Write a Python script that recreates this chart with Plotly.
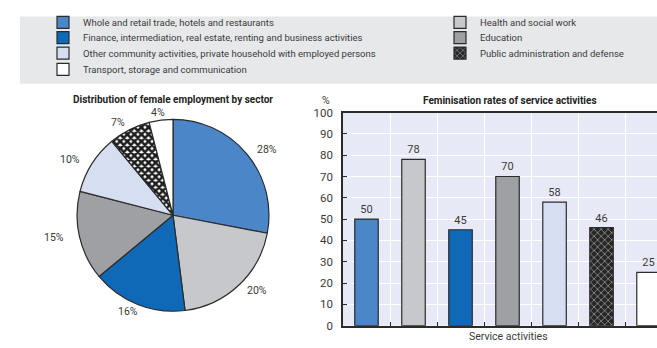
import math
import plotly.graph_objects as go

# ---- data ----
sectors = [
    "Whole and retail trade, hotels and restaurants",
    "Health and social work",
    "Finance, intermediation, real estate, renting and business activities",
    "Education",
    "Other community activities, private household with employed persons",
    "Public administration and defense",
    "Transport, storage and communication",
]
share_pct = [28, 20, 16, 15, 10, 7, 4]          # distribution of female employment
feminisation = [50, 78, 45, 70, 58, 46, 25]     # feminisation rates (%)
y_ticks = list(range(0, 101, 10))

colors = ["#4a86c8", "#c6c8cb", "#0f69b6", "#9ea0a3", "#d6def1", "#ffffff", "#ffffff"]
patterns = ["", "", "", "", "", "x", ""]
# legend cell for each sector: (column x-left px, row centre y px)
legend_cells = [(43, 16), (440, 16), (43, 32), (440, 32), (43, 48), (440, 48), (43, 65)]

FONT = "Roboto"
TXT = "#3a3a3a"
EDGE = "#2b2b2b"
PIE_PAT = dict(fgcolor="#1e1e1e", bgcolor="#ffffff", size=5, solidity=0.75)
BAR_PAT = dict(fgcolor="#ffffff", bgcolor="#262626", size=5, solidity=0.3)
W, H = 657, 348
PIE_CX, PIE_CY, PIE_R = 173, 217, 100
LABEL_RX, LABEL_RY = 122, 108

fig = go.Figure()

# pie
fig.add_trace(go.Pie(
    labels=sectors, values=share_pct, sort=False, direction="clockwise", rotation=0,
    marker=dict(colors=colors, line=dict(color=EDGE, width=1.2),
                pattern=dict(shape=patterns, **PIE_PAT)),
    textinfo="none",
    domain=dict(x=[(PIE_CX - PIE_R) / W, (PIE_CX + PIE_R) / W],
                y=[1 - (PIE_CY + PIE_R) / H, 1 - (PIE_CY - PIE_R) / H]),
    showlegend=False, hoverinfo="label+value",
))

# pie percentage labels, placed at each slice's mid-angle (derived from the data)
annotations = []
total = sum(share_pct)
cum = 0
for v in share_pct:
    mid = (cum + v / 2) / total * 2 * math.pi
    cum += v
    px = PIE_CX + LABEL_RX * math.sin(mid)
    py = PIE_CY - LABEL_RY * math.cos(mid)
    annotations.append(dict(text=f"{v}%", xref="paper", yref="paper", x=px / W, y=1 - py / H,
                            xanchor="center", yanchor="middle", showarrow=False,
                            font=dict(family=FONT, size=10.5, color=TXT)))

# bars (one trace per sector, each with its own legend cell)
legend_layout = {}
for i, s in enumerate(sectors):
    lid = "legend" if i == 0 else f"legend{i + 1}"
    fig.add_trace(go.Bar(
        x=[s], y=[feminisation[i]], name=s, width=0.5,
        marker=dict(color=colors[i], line=dict(color=EDGE, width=1.2),
                    pattern=dict(shape=patterns[i], **BAR_PAT)),
        text=[feminisation[i]], textposition="outside", cliponaxis=False,
        textfont=dict(family=FONT, size=11, color=TXT),
        legend=lid, showlegend=True, xaxis="x", yaxis="y",
    ))
    cx, cy = legend_cells[i]
    legend_layout[lid] = dict(x=cx / W, y=1 - cy / H, xanchor="left", yanchor="middle",
                              bgcolor="rgba(0,0,0,0)", borderwidth=0,
                              font=dict(family=FONT, size=9.5, color=TXT),
                              itemclick=False, itemdoubleclick=False)

annotations += [
    dict(text="<b>Distribution of female employment by sector</b>", xref="paper", yref="paper",
         x=173 / W, y=1 - 96 / H, xanchor="center", yanchor="middle", showarrow=False,
         font=dict(family=FONT, size=10, color="#222222")),
    dict(text="<b>Feminisation rates of service activities</b>", xref="paper", yref="paper",
         x=510 / W, y=1 - 97 / H, xanchor="center", yanchor="middle", showarrow=False,
         font=dict(family=FONT, size=10, color="#222222")),
    dict(text="%", xref="paper", yref="paper", x=326 / W, y=1 - 97 / H,
         xanchor="center", yanchor="middle", showarrow=False,
         font=dict(family=FONT, size=10.5, color=TXT)),
    dict(text="Service activities", xref="paper", yref="paper", x=508 / W, y=1 - 343 / H,
         xanchor="center", yanchor="middle", showarrow=False,
         font=dict(family=FONT, size=10.5, color=TXT)),
]

fig.update_layout(
    width=W, height=H,
    margin=dict(l=0, r=0, t=0, b=0),
    paper_bgcolor="white",
    plot_bgcolor="#e7eaf6",
    font=dict(family=FONT, color=TXT),
    **legend_layout,
    xaxis=dict(domain=[343 / W, 1.0], type="category", range=[-0.5, 6.18],
               showticklabels=False, tickson="boundaries", ticks="inside", ticklen=4,
               tickcolor=EDGE, showgrid=True, gridcolor="white", gridwidth=1,
               showline=True, linecolor=EDGE, linewidth=1.5, mirror=True, zeroline=False),
    yaxis=dict(domain=[1 - 332 / H, 1 - 110 / H], range=[0, 100], tickvals=y_ticks,
               ticks="inside", ticklen=4, tickcolor=EDGE, ticklabelstandoff=6,
               tickfont=dict(family=FONT, size=11.5, color=TXT),
               showgrid=True, gridcolor="white", gridwidth=1,
               showline=True, linecolor=EDGE, linewidth=1.5, zeroline=False),
    shapes=[dict(type="rect", xref="paper", yref="paper", x0=20 / W, x1=1.0,
                 y0=1 - 80 / H, y1=1 - 10 / H, fillcolor="#e7e8ea",
                 line=dict(width=0), layer="below")],
    annotations=annotations,
)

fig.write_html("out.html")
